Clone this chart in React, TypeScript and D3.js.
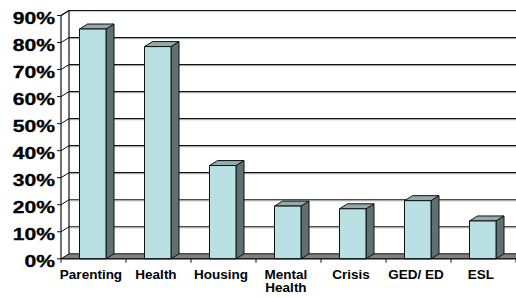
import React from 'react';
import * as d3 from 'd3';

const categories = ['Parenting', 'Health', 'Housing', 'Mental Health', 'Crisis', 'GED/ ED', 'ESL'];
const values = [0.85, 0.785, 0.345, 0.195, 0.185, 0.215, 0.14];
const yTicks = [0, 0.1, 0.2, 0.3, 0.4, 0.5, 0.6, 0.7, 0.8, 0.9];

const W = 516;
const H = 297;
const left = 61;
const dx = 8;
const dy = 5;

function labelLines(c: string) {
  return c === 'Mental Health' ? ['Mental', 'Health'] : [c];
}

export default function App() {
  const x = d3.scaleBand().domain(categories).range([left, left + 65 * 7]).padding(0);
  const y = d3.scaleLinear().domain([0, 0.9]).range([258.8, 15.5]);
  const barW = 26.5;
  const barOff = 18.5;
  const yb = (v: number) => y(v) - dy;
  const fmt = d3.format('.0%');

  return (
    <svg
      width={W}
      height={H}
      style={{ position: 'absolute', left: 0, top: 0, background: '#fff' }}
      fontFamily="'Liberation Sans', Arial, sans-serif"
      fontWeight="bold"
    >
      {/* back wall gridlines */}
      {yTicks.slice(1).map((t) => (
        <g key={t}>
          <line x1={left + dx} x2={W + dx} y1={yb(t) + 1.2} y2={yb(t) + 1.2} stroke="#c8c8c8" strokeWidth={1} />
          <line x1={left + dx} x2={W + dx} y1={yb(t)} y2={yb(t)} stroke="#111" strokeWidth={1.2} />
          <line x1={left} y1={y(t)} x2={left + dx} y2={yb(t)} stroke="#111" strokeWidth={1} />
        </g>
      ))}
      {/* floor */}
      <polygon
        points={`${left},${y(0)} ${W + dx},${y(0)} ${W + dx + dx},${yb(0)} ${left + dx},${yb(0)}`}
        fill="#808080"
        stroke="#111"
        strokeWidth={1}
      />
      {/* bars */}
      {categories.map((c, i) => {
        const x0 = (x(c) as number) + barOff;
        const yT = y(values[i]);
        const yB = y(0);
        return (
          <g key={c} stroke="#111" strokeWidth={1} strokeLinejoin="round">
            <polygon
              points={`${x0 + barW},${yT} ${x0 + barW + dx},${yT - dy} ${x0 + barW + dx},${yB - dy} ${x0 + barW},${yB}`}
              fill="#5f7070"
            />
            <polygon
              points={`${x0},${yT} ${x0 + dx},${yT - dy} ${x0 + barW + dx},${yT - dy} ${x0 + barW},${yT}`}
              fill="#90abab"
            />
            <rect x={x0} y={yT} width={barW} height={yB - yT} fill="#b9e0e3" />
          </g>
        );
      })}
      {/* walls / axes */}
      <line x1={left + dx} x2={left + dx} y1={yb(0.9)} y2={yb(0)} stroke="#111" strokeWidth={1.2} />
      <line x1={left} x2={left} y1={y(0.9)} y2={y(0)} stroke="#111" strokeWidth={1.2} />
      <line x1={left} y1={y(0.9)} x2={left + dx} y2={yb(0.9)} stroke="#111" strokeWidth={1.2} />
      <line x1={left} x2={W} y1={y(0)} y2={y(0)} stroke="#111" strokeWidth={1} />
      {yTicks.map((t) => (
        <g key={t}>
          <line x1={left - 4} x2={left} y1={y(t)} y2={y(t)} stroke="#111" strokeWidth={1} />
          <text
            transform={`translate(55,${y(t) + 8}) scale(1.32,1)`}
            textAnchor="end"
            fontSize={16}
            fill="#000"
            stroke="#000"
            strokeWidth={0.3}
          >
            {fmt(t)}
          </text>
        </g>
      ))}
      {categories.map((c, i) => (
        <line key={'tk' + c} x1={left + 65 * i} x2={left + 65 * i} y1={y(0)} y2={y(0) + 4} stroke="#111" strokeWidth={1} />
      ))}
      <line x1={left + 65 * 7} x2={left + 65 * 7} y1={y(0)} y2={y(0) + 4} stroke="#111" strokeWidth={1} />
      {categories.map((c) => {
        const cx = (x(c) as number) + x.bandwidth() / 2 - 2.5;
        return (
          <text key={'lb' + c} textAnchor="middle" fontSize={13.5} fill="#000">
            {labelLines(c).map((l, j) => (
              <tspan key={j} x={cx} y={278.5 + j * 13.5}>
                {l}
              </tspan>
            ))}
          </text>
        );
      })}
    </svg>
  );
}
